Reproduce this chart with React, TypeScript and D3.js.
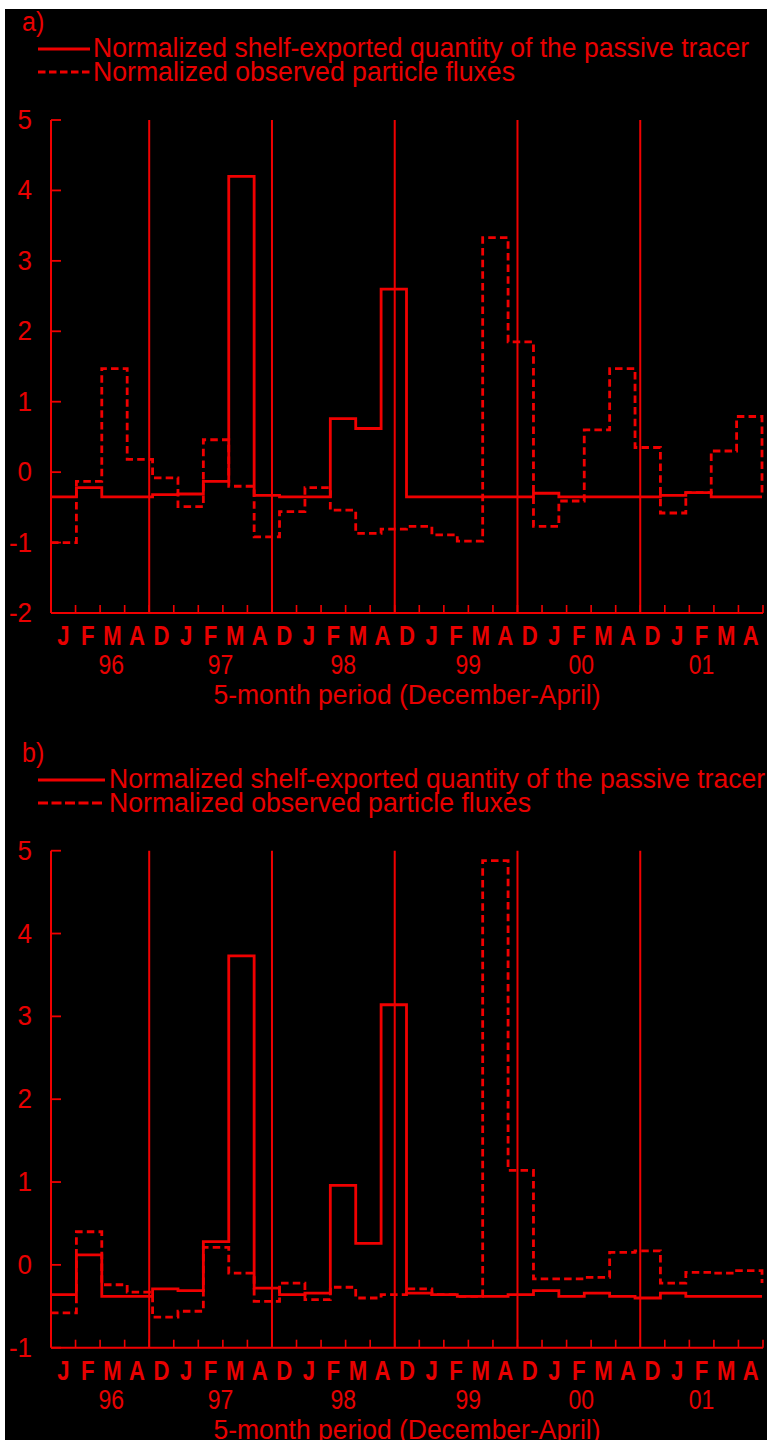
import React from "react";
import * as d3 from "d3";

// ---- Data ----
const monthLabels = ["J","F","M","A","D","J","F","M","A","D","J","F","M","A","D","J","F","M","A","D","J","F","M","A","D","J","F","M","A"];
const yearLabels = ["96","97","98","99","00","01"];
const yearLabelPos = [2.45, 6.9, 11.9, 17.0, 21.6, 26.5]; // in month units
const separators = [4, 9, 14, 19, 24];

const legendTracer = "Normalized shelf-exported quantity of the passive tracer";
const legendObs = "Normalized observed particle fluxes";
const xTitle = "5-month period (December-April)";

// panel a
const tracerA = [-0.35,-0.22,-0.35,-0.35,-0.32,-0.31,-0.13,4.2,-0.33,-0.35,-0.35,0.76,0.62,2.6,-0.35,-0.35,-0.35,-0.35,-0.35,-0.30,-0.35,-0.35,-0.35,-0.35,-0.33,-0.29,-0.35,-0.35];
const obsA = [-1.0,-0.13,1.47,0.18,-0.08,-0.49,0.46,-0.2,-0.92,-0.56,-0.22,-0.54,-0.87,-0.81,-0.77,-0.89,-0.98,3.33,1.85,-0.77,-0.41,0.6,1.47,0.35,-0.58,-0.29,0.3,0.79];
const obsEndA = -0.31;
const yTicksA = [-2,-1,0,1,2,3,4,5];

// panel b
const tracerB = [-0.36,0.12,-0.38,-0.38,-0.29,-0.31,0.28,3.73,-0.28,-0.36,-0.34,0.96,0.26,3.14,-0.34,-0.36,-0.38,-0.38,-0.36,-0.31,-0.38,-0.34,-0.38,-0.40,-0.34,-0.38,-0.38,-0.38];
const obsB = [-0.58,0.40,-0.24,-0.33,-0.63,-0.56,0.21,-0.10,-0.44,-0.22,-0.42,-0.27,-0.40,-0.36,-0.29,-0.36,-0.38,4.88,1.14,-0.17,-0.17,-0.15,0.15,0.17,-0.22,-0.09,-0.10,-0.07];
const obsEndB = -0.22;
const yTicksB = [-1,0,1,2,3,4,5];

const RED = "#f00000";
const TXT = "#e80000";
const FONT = "'Liberation Sans', Arial, Helvetica, sans-serif";

const W = 767, H = 1440;
const xMonth = d3.scaleLinear().domain([0, 29]).range([51, 763]);
const xBin = d3.scaleLinear().domain([0, 28]).range([51, 762]);

type PanelProps = {
  label: string;
  tracer: number[];
  obs: number[];
  obsEnd: number;
  yDomain: [number, number];
  yRange: [number, number];
  ticks: number[];
  top: number;
  legendLineEnd: number;
  legendTextX: number;
  legendDash: string;
};

function Panel(p: PanelProps) {
  const y = d3.scaleLinear().domain(p.yDomain).range(p.yRange);
  const axisY = p.yRange[0];
  const topY = p.yRange[1];
  const line = d3.line<[number, number]>()
    .x(d => xBin(d[0]))
    .y(d => y(d[1]))
    .curve(d3.curveStepAfter);
  const tracerPts: [number, number][] = p.tracer.map((v, i) => [i, v] as [number, number]);
  tracerPts.push([p.tracer.length, p.tracer[p.tracer.length - 1]]);
  const obsPts: [number, number][] = p.obs.map((v, i) => [i, v] as [number, number]);
  obsPts.push([p.obs.length, p.obs[p.obs.length - 1]]);
  obsPts.push([p.obs.length, p.obsEnd]);
  const monthTicks = d3.range(1, 30);
  return (
    <g>
      <text transform={`translate(22,${p.top + 31}) scale(1,1.08)`} fill={TXT} fontSize={25} fontFamily={FONT}>{p.label}</text>
      <line x1={38} x2={p.legendLineEnd} y1={p.top + 49} y2={p.top + 49} stroke={RED} strokeWidth={2.8} />
      <text transform={`translate(${p.legendTextX},${p.top + 57}) scale(1,1.08)`} fill={TXT} fontSize={26} fontFamily={FONT}
        textLength={656} lengthAdjust="spacingAndGlyphs">{legendTracer}</text>
      <line x1={38} x2={p.legendLineEnd} y1={p.top + 72} y2={p.top + 72} stroke={RED} strokeWidth={2.8} strokeDasharray={p.legendDash} />
      <text transform={`translate(${p.legendTextX},${p.top + 81}) scale(1,1.08)`} fill={TXT} fontSize={26} fontFamily={FONT}
        textLength={422} lengthAdjust="spacingAndGlyphs">{legendObs}</text>

      {/* y axis */}
      <line x1={xMonth(0)} x2={xMonth(0)} y1={axisY} y2={topY} stroke={RED} strokeWidth={2} />
      {p.ticks.map(t => (
        <g key={t}>
          <line x1={xMonth(0)} x2={xMonth(0) + 10} y1={y(t)} y2={y(t)} stroke={RED} strokeWidth={1.8} />
          <text transform={`translate(32,${y(t) + 9}) scale(1,1.08)`} textAnchor="end" fill={TXT} fontSize={26} fontFamily={FONT}>{t}</text>
        </g>
      ))}
      {/* x axis */}
      <line x1={xMonth(0)} x2={xMonth(29)} y1={axisY} y2={axisY} stroke={RED} strokeWidth={2} />
      {monthTicks.map(m => (
        <line key={m} x1={xMonth(m)} x2={xMonth(m)} y1={axisY} y2={axisY - 8} stroke={RED} strokeWidth={1.6} />
      ))}
      {separators.map(s => (
        <line key={"s" + s} x1={xMonth(s)} x2={xMonth(s)} y1={axisY} y2={topY} stroke={RED} strokeWidth={2} />
      ))}
      {monthLabels.map((m, i) => (
        <text key={"m" + i} transform={`translate(${xMonth(i + 0.5)},${axisY + 32}) scale(0.82,1.05)`}
          textAnchor="middle" fill={TXT} fontSize={27} fontWeight="bold" fontFamily={FONT}>{m}</text>
      ))}
      {yearLabels.map((yl, i) => (
        <text key={"y" + i} transform={`translate(${xMonth(yearLabelPos[i])},${axisY + 61}) scale(0.85,1.05)`}
          textAnchor="middle" fill={TXT} fontSize={27} fontFamily={FONT}>{yl}</text>
      ))}
      <text transform={`translate(${(xMonth(0) + xMonth(29)) / 2},${axisY + 91}) scale(1,1.08)`} textAnchor="middle" fill={TXT} fontSize={26}
        fontFamily={FONT} textLength={387} lengthAdjust="spacingAndGlyphs">{xTitle}</text>

      {/* data */}
      <path d={line(obsPts) || ""} fill="none" stroke={RED} strokeWidth={2.8} strokeDasharray="7.5,4.2" />
      <path d={line(tracerPts) || ""} fill="none" stroke={RED} strokeWidth={2.8} />
    </g>
  );
}

export default function App() {
  return (
    <div style={{ position: "absolute", left: 0, top: 0, width: W, height: H }}>
      <svg width={W} height={H} style={{ display: "block" }}>
        <rect x={0} y={0} width={W} height={H} fill="#ffffff" />
        <rect x={5} y={9} width={W - 5} height={H - 9} fill="#000000" />
        <Panel label="a)" tracer={tracerA} obs={obsA} obsEnd={obsEndA}
          yDomain={[-2, 5]} yRange={[613, 120]} ticks={yTicksA} top={0}
          legendLineEnd={90} legendTextX={93} legendDash="7.5,3.5" />
        <Panel label="b)" tracer={tracerB} obs={obsB} obsEnd={obsEndB}
          yDomain={[-1, 5]} yRange={[1347.7, 850.7]} ticks={yTicksB} top={731}
          legendLineEnd={105} legendTextX={109} legendDash="10,3.5" />
      </svg>
    </div>
  );
}
